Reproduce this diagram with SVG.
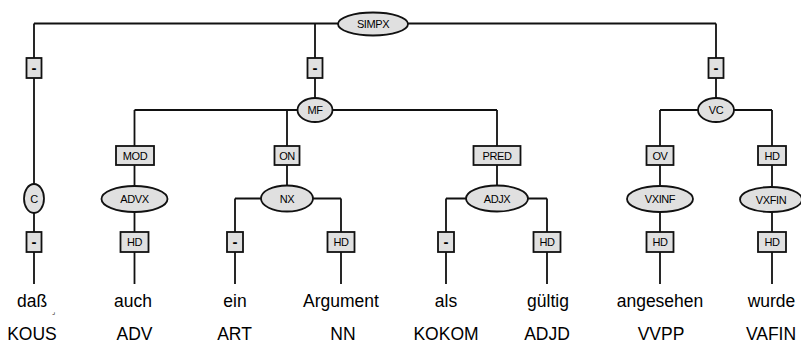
<svg xmlns="http://www.w3.org/2000/svg" width="801" height="343" viewBox="0 0 801 343">
<style>
.c{fill:none;stroke:#111;stroke-width:1.8}
.n{fill:#e0e0e0;stroke:#111;stroke-width:1.8}
.l{font-family:"Liberation Sans",Arial,sans-serif;font-size:11px;letter-spacing:-0.4px;text-anchor:middle;fill:#000}
.d{font-family:"Liberation Sans",Arial,sans-serif;font-size:15px;font-weight:bold;text-anchor:middle;fill:#000}
.w{font-family:"Liberation Sans",Arial,sans-serif;font-size:17.5px;text-anchor:middle;fill:#000}
</style>
<rect width="801" height="343" fill="#fff"/>
<g id="connectors">
<path class="c" d="M34 23.5H716M34 23.5V184M315 23.5V98M716 23.5V98"/>
<path class="c" d="M134.5 110H497M134.5 110V186M287 110V186M497 110V186"/>
<path class="c" d="M660 110H772M660 110V186M772 110V187"/>
<path class="c" d="M34 213V284M134.5 212V284"/>
<path class="c" d="M235 198.5H341M235 198.5V284M341 198.5V284"/>
<path class="c" d="M446 198.5H547M446 198.5V284M547 198.5V284"/>
<path class="c" d="M660 212V284M772 212V284"/>
</g>
<g id="SIMPX"><ellipse class="n" cx="373" cy="24" rx="35" ry="11.5"/><text class="l" x="373" y="28">SIMPX</text></g>
<g id="e_simpx_1"><rect class="n" x="26.5" y="58" width="15" height="20"/><text class="d" x="34" y="73">-</text></g>
<g id="e_simpx_2"><rect class="n" x="307.5" y="58" width="15" height="20"/><text class="d" x="315" y="73">-</text></g>
<g id="e_simpx_3"><rect class="n" x="708.5" y="58" width="15" height="20"/><text class="d" x="716" y="73">-</text></g>
<g id="MF"><ellipse class="n" cx="315" cy="110" rx="17.5" ry="12"/><text class="l" x="315" y="114">MF</text></g>
<g id="VC"><ellipse class="n" cx="716" cy="110" rx="18" ry="12"/><text class="l" x="716" y="114">VC</text></g>
<g id="MOD"><rect class="n" x="116" y="146" width="38" height="19"/><text class="l" x="135" y="159.5">MOD</text></g>
<g id="ON"><rect class="n" x="274.5" y="146" width="25" height="19"/><text class="l" x="287" y="159.5">ON</text></g>
<g id="PRED"><rect class="n" x="473.5" y="146" width="47" height="19"/><text class="l" x="497" y="159.5">PRED</text></g>
<g id="OV"><rect class="n" x="646.5" y="146" width="27" height="19"/><text class="l" x="660" y="159.5">OV</text></g>
<g id="HD_vc"><rect class="n" x="758" y="146" width="28" height="19"/><text class="l" x="772" y="159.5">HD</text></g>
<g id="C"><ellipse class="n" cx="34" cy="198.5" rx="10" ry="14.5"/><text class="l" x="34" y="202.5">C</text></g>
<g id="ADVX"><ellipse class="n" cx="134.5" cy="199" rx="33" ry="13"/><text class="l" x="134.5" y="203">ADVX</text></g>
<g id="NX"><ellipse class="n" cx="287" cy="198.5" rx="26" ry="13"/><text class="l" x="287" y="202.5">NX</text></g>
<g id="ADJX"><ellipse class="n" cx="497" cy="198.5" rx="31" ry="13"/><text class="l" x="497" y="202.5">ADJX</text></g>
<g id="VXINF"><ellipse class="n" cx="660" cy="199" rx="33" ry="13"/><text class="l" x="660" y="203">VXINF</text></g>
<g id="VXFIN"><ellipse class="n" cx="771" cy="199.5" rx="31" ry="12.5"/><text class="l" x="771" y="203.5">VXFIN</text></g>
<g id="e_c"><rect class="n" x="26.5" y="232" width="15" height="20"/><text class="d" x="34" y="247">-</text></g>
<g id="HD_advx"><rect class="n" x="120.5" y="232" width="28" height="20"/><text class="l" x="134.5" y="246">HD</text></g>
<g id="e_nx"><rect class="n" x="227" y="232" width="16" height="20"/><text class="d" x="235" y="247">-</text></g>
<g id="HD_nx"><rect class="n" x="327.5" y="232" width="27" height="20"/><text class="l" x="341" y="246">HD</text></g>
<g id="e_adjx"><rect class="n" x="438" y="232" width="16" height="20"/><text class="d" x="446" y="247">-</text></g>
<g id="HD_adjx"><rect class="n" x="533.5" y="232" width="27" height="20"/><text class="l" x="547" y="246">HD</text></g>
<g id="HD_vxinf"><rect class="n" x="646.5" y="232" width="27" height="20"/><text class="l" x="660" y="246">HD</text></g>
<g id="HD_vxfin"><rect class="n" x="758" y="232" width="28" height="20"/><text class="l" x="772" y="246">HD</text></g>
<g id="words">
<text class="w" x="32" y="307">daß</text>
<text x="52" y="314" font-family="DejaVu Sans,sans-serif" font-size="7" fill="#000">⌟</text>
<text class="w" x="133" y="307">auch</text>
<text class="w" x="235" y="307">ein</text>
<text class="w" x="341" y="307">Argument</text>
<text class="w" x="446" y="307">als</text>
<text class="w" x="548" y="307">gültig</text>
<text class="w" x="660" y="307">angesehen</text>
<text class="w" x="771.5" y="307">wurde</text>
</g>
<g id="tags">
<text class="w" x="32" y="340">KOUS</text>
<text class="w" x="134.5" y="340">ADV</text>
<text class="w" x="234.5" y="340">ART</text>
<text class="w" x="343" y="340">NN</text>
<text class="w" x="446" y="340">KOKOM</text>
<text class="w" x="547" y="340">ADJD</text>
<text class="w" x="661" y="340">VVPP</text>
<text class="w" x="771" y="340">VAFIN</text>
</g>
</svg>
